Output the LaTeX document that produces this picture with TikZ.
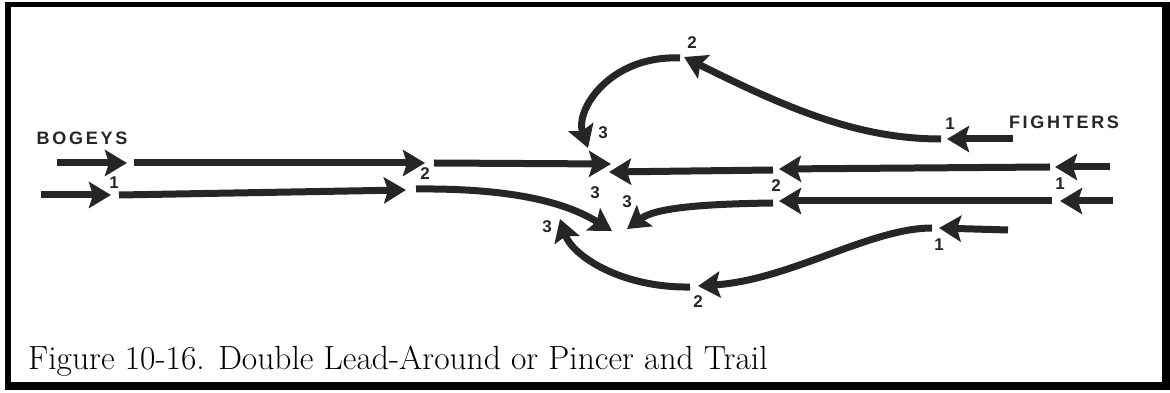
\documentclass[tikz,border=0pt]{standalone}
\usepackage{fontspec}
\usepackage{tikz}
\usetikzlibrary{arrows.meta,positioning}
\newfontfamily\numfont{Liberation Sans}
\newfontfamily\callfont[LetterSpace=15]{Liberation Sans}
\tikzset{
    %Define standard arrow tip
    >={Stealth[length=22pt,width=26pt,inset=4pt]},
    %Define style for flight paths
    track/.style={
           ->,
           line width=7pt,
           draw=black!85,
           },
    %Define style for the numbers
    num/.style={
           font=\numfont\bfseries\fontsize{17}{17}\selectfont,
           text=black!85,
           inner sep=0pt,
           },
    call/.style={
           font=\callfont\bfseries\fontsize{18}{18}\selectfont,
           text=black!85,
           inner sep=0pt,
           },
}
\begin{document}
\begin{tikzpicture}[x=1pt,y=1pt]
\useasboundingbox (0,0) rectangle (1170,393);
% frame
\fill[black] (5,3) rectangle (1170,391);
\fill[white] (11,11) rectangle (1162,386);

% bogeys
\coordinate (bt0) at (57,230);
\coordinate (bt1) at (127,230);
\coordinate (bt1s) at (134,230);
\coordinate (bt2) at (425,230);
\coordinate (bt2s) at (434,230);
\coordinate (bt3) at (611,229);
\coordinate (bb0) at (41,198);
\coordinate (bb1) at (111,198);
\coordinate (bb1s) at (119,198);
\coordinate (bb2) at (406,203);
\coordinate (bb2s) at (416,204);
\coordinate (bb3) at (612,162);

% fighters
\coordinate (fm0) at (1110,226);
\coordinate (fm1) at (1055,226);
\coordinate (fm1s) at (1050,226);
\coordinate (fm2) at (779,224);
\coordinate (fm2s) at (773,223);
\coordinate (fm3) at (609,221);
\coordinate (fn0) at (1113,192);
\coordinate (fn1) at (1060,192);
\coordinate (fn1s) at (1052,192);
\coordinate (fn2) at (779,192);
\coordinate (fn2s) at (773,190);
\coordinate (fn3) at (627,164);
\coordinate (fu0) at (1013,254);
\coordinate (fu1) at (947,254);
\coordinate (fu1s) at (941,254);
\coordinate (fu2) at (684,336);
\coordinate (fu2s) at (680,335);
\coordinate (fu3) at (588,245);
\coordinate (fl0) at (1008,163);
\coordinate (fl1) at (939,165);
\coordinate (fl1s) at (932,165);
\coordinate (fl2) at (698,107);
\coordinate (fl2s) at (690,106);
\coordinate (fl3) at (560,174);

\foreach \a/\b in {bt0/bt1, bt1s/bt2, bt2s/bt3, bb0/bb1, bb1s/bb2,
	fm0/fm1, fm1s/fm2, fm2s/fm3, fn0/fn1, fn1s/fn2, fu0/fu1, fl0/fl1}
	\draw[track] (\a) -- (\b);
\draw[track] (bb2s) .. controls (520,205) and (570,188) .. (bb3);
\draw[track] (fn2s) .. controls (700,189) and (655,185) .. (fn3);
\draw[track] (fu1s) .. controls (860,254) and (790,283) .. (fu2);
\draw[track] (fu2s) .. controls (610,338) and (575,283) .. (fu3);
\draw[track] (fl1s) .. controls (870,165) and (790,113) .. (fl2);
\draw[track] (fl2s) .. controls (620,105) and (572,138) .. (fl3);

% labels
\node[call] (bogeys) at (82,255) {BOGEYS};
\node[call] (fighters) at (1064,271) {FIGHTERS};
\node[num] (nb1) at (114,210) {1};
\node[num] (nb2) at (425,219) {2};
\node[num] (n3a) at (595,200) {3};
\node[num] (n3b) at (627,191) {3};
\node[num] (n3c) at (547,166) {3};
\node[num] (n3d) at (603,260) {3};
\node[num] (nu2) at (692,350) {2};
\node[num] (nl2) at (698,91) {2};
\node[num] (nu1) at (950,269) {1};
\node[num] (nm1) at (1060,209) {1};
\node[num] (nm2) at (776,207) {2};
\node[num] (nl1) at (939,148) {1};
\node[anchor=base west,inner sep=0pt,font=\fontsize{33.5}{34}\selectfont] (caption) at (28,23)
	{Figure 10-16. Double Lead-Around or Pincer and Trail};
\end{tikzpicture}
\end{document}
